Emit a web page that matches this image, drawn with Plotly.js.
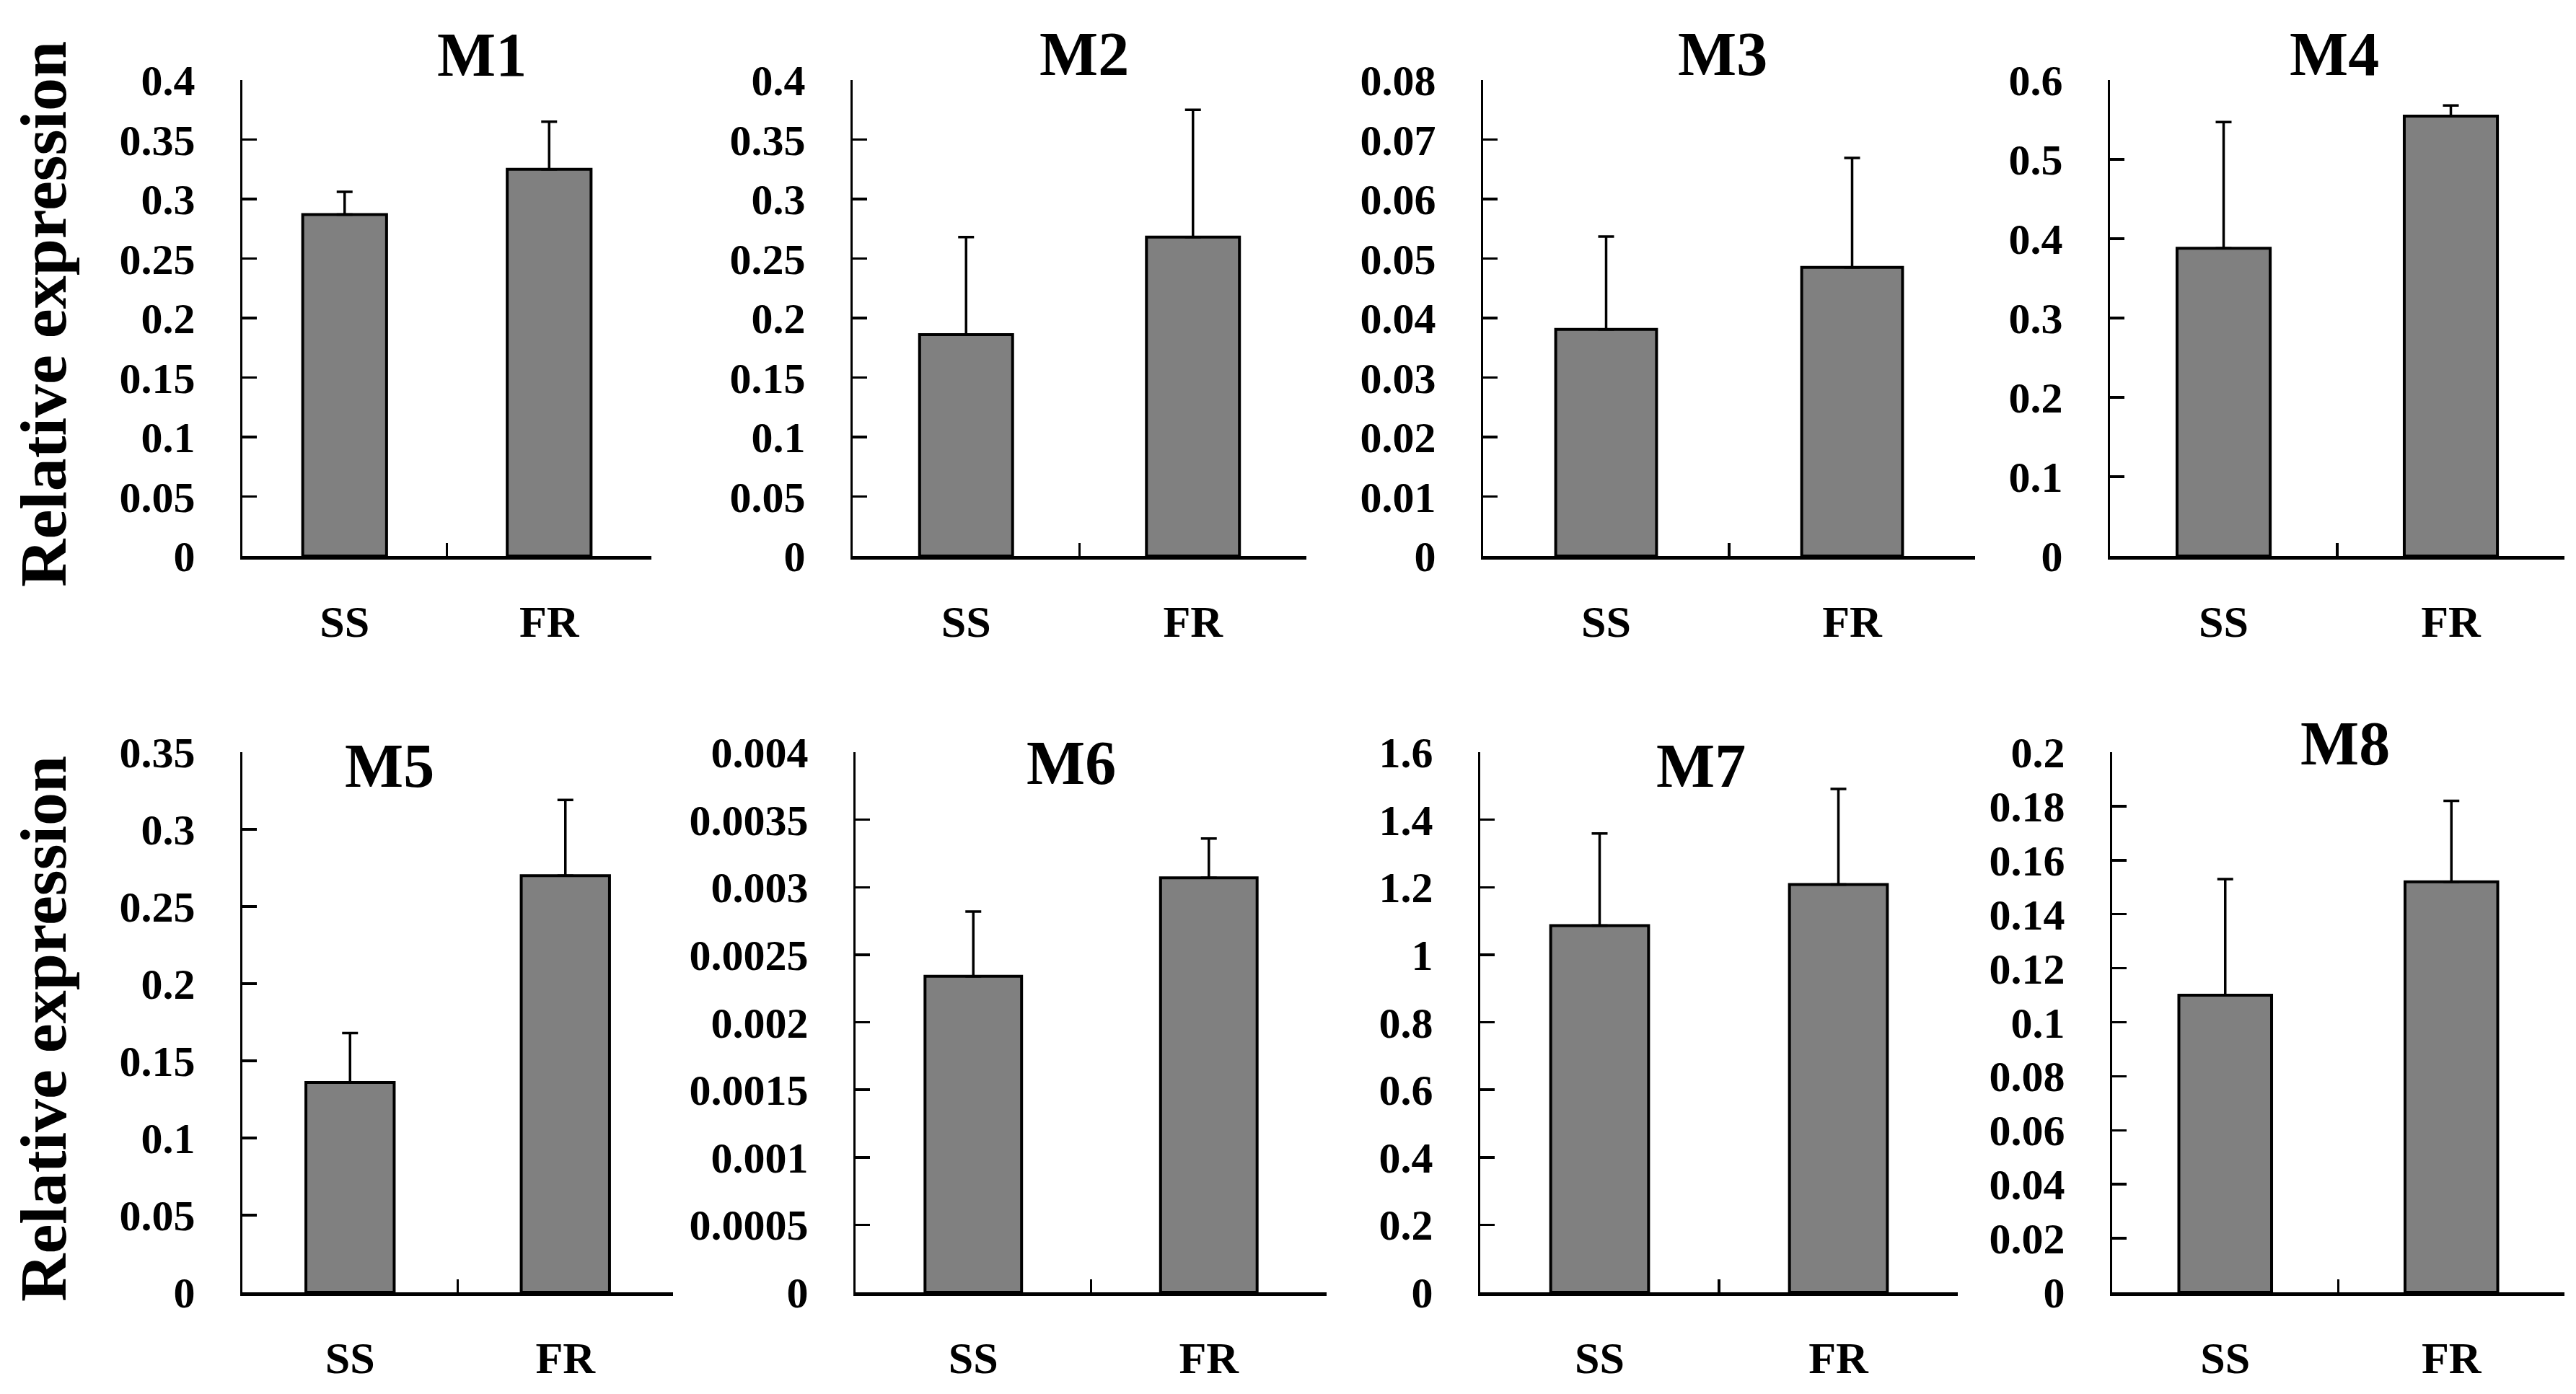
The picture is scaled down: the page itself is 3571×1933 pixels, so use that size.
<!DOCTYPE html>
<html>
<head>
<meta charset="utf-8">
<script src="https://cdn.plot.ly/plotly-3.0.1.min.js"></script>
<style>
  html, body { margin: 0; padding: 0; background: #ffffff; }
  #chart { width: 3571px; height: 1933px; }
</style>
</head>
<body>
<div id="chart"></div>
<script>
// ---- data ----
const categories = ['SS', 'FR'];
const panelTitles = ['M1', 'M2', 'M3', 'M4', 'M5', 'M6', 'M7', 'M8'];
const ssMean = [0.287, 0.186, 0.0381, 0.388, 0.136, 0.00234, 1.086, 0.110];
const frMean = [0.325, 0.268, 0.0485, 0.5545, 0.270, 0.00307, 1.208, 0.152];
const ssErr  = [0.019, 0.082, 0.0156, 0.159, 0.032, 0.00048, 0.273, 0.043];
const frErr  = [0.040, 0.107, 0.0184, 0.0135, 0.049, 0.00029, 0.283, 0.030];
const yMax   = [0.4, 0.4, 0.08, 0.6, 0.35, 0.004, 1.6, 0.2];
const yStep  = [0.05, 0.05, 0.01, 0.1, 0.05, 0.0005, 0.2, 0.02];
const yTitle = 'Relative expression';

// ---- layout geometry (pixels of the 3571x1933 canvas) ----
const W = 3571, H = 1933;
const xPix = [[336, 903], [1182, 1811], [2056, 2738], [2925, 3555],
              [336, 933], [1186, 1839], [2052, 2714], [2928, 3555]];
const rowPix = [[111, 771], [1043, 1792]];
const titlePos = [[668, 76], [1503, 75], [2388, 75], [3236, 75],
                  [540, 1062], [1485, 1058], [2358, 1062], [3251, 1031]];

const FONT = 'Liberation Serif, Times New Roman, serif';
const traces = [];
const layout = {
  width: W, height: H,
  margin: {l: 0, r: 0, t: 0, b: 0},
  paper_bgcolor: '#ffffff',
  plot_bgcolor: '#ffffff',
  showlegend: false,
  bargap: 0.59,
  font: {family: FONT, color: '#000000', weight: 'bold'},
  annotations: []
};

for (let i = 0; i < 8; i++) {
  const n = i + 1;
  const xa = 'x' + (n === 1 ? '' : n);
  const ya = 'y' + (n === 1 ? '' : n);
  traces.push({
    type: 'bar',
    x: categories,
    y: [ssMean[i], frMean[i]],
    xaxis: xa, yaxis: ya,
    marker: {color: '#808080', line: {color: '#000000', width: 4}},
    error_y: {
      type: 'data', symmetric: false,
      array: [ssErr[i], frErr[i]],
      arrayminus: [0, 0],
      color: '#000000', thickness: 3.5, width: 11
    },
    hoverinfo: 'skip'
  });
  const row = i < 4 ? 0 : 1;
  const xd = [xPix[i][0] / W, xPix[i][1] / W];
  const yd = [1 - rowPix[row][1] / H, 1 - rowPix[row][0] / H];
  layout['xaxis' + (n === 1 ? '' : n)] = {
    domain: xd, anchor: ya,
    type: 'category', range: [-0.5, 1.5],
    showline: true, linecolor: '#000000', linewidth: 4.5,
    ticks: 'inside', tickson: 'boundaries', ticklen: 18, tickwidth: 3.5, tickcolor: '#000000',
    showgrid: false, zeroline: false,
    tickfont: {family: FONT, size: 62, color: '#000000', weight: 'bold'},
    ticklabelstandoff: 33,
    fixedrange: true
  };
  layout['yaxis' + (n === 1 ? '' : n)] = {
    domain: yd, anchor: xa,
    range: [0, yMax[i]], dtick: yStep[i], tick0: 0,
    showline: true, linecolor: '#000000', linewidth: 3.5,
    ticks: 'inside', ticklen: 20, tickwidth: 3.5, tickcolor: '#000000',
    showgrid: false, zeroline: false,
    tickfont: {family: FONT, size: 60, color: '#000000', weight: 'bold'},
    ticklabelstandoff: 50,
    fixedrange: true
  };
  layout.annotations.push({
    text: panelTitles[i], xref: 'paper', yref: 'paper',
    x: titlePos[i][0] / W, y: 1 - titlePos[i][1] / H,
    xanchor: 'center', yanchor: 'middle', showarrow: false,
    font: {family: FONT, size: 86, color: '#000000', weight: 'bold'}
  });
}

// row y-axis titles
[[60, 436], [60, 1427]].forEach(function (p) {
  layout.annotations.push({
    text: yTitle, xref: 'paper', yref: 'paper',
    x: p[0] / W, y: 1 - p[1] / H,
    xanchor: 'center', yanchor: 'middle', showarrow: false, textangle: -90,
    font: {family: FONT, size: 92, color: '#000000', weight: 'bold'}
  });
});

Plotly.newPlot('chart', traces, layout, {displayModeBar: false, staticPlot: true});
</script>
</body>
</html>
